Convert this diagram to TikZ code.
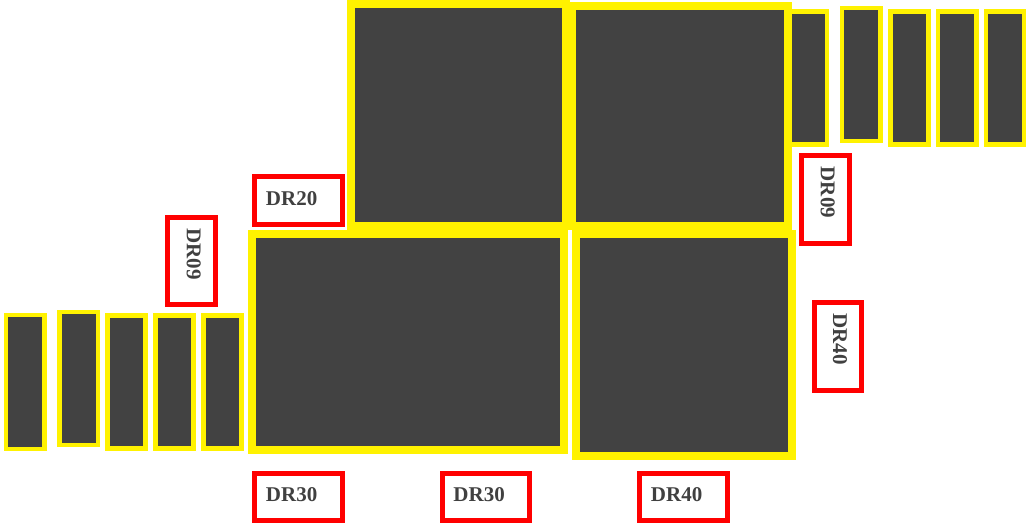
\documentclass[tikz,border=0pt]{standalone}
\usepackage{fontspec}
\setmainfont{Liberation Serif}
\definecolor{panelgray}{HTML}{424242}
\definecolor{labelgray}{HTML}{404040}
\tikzset{
  panel/.style={draw=yellow, fill=panelgray, line width=6pt},
  strip/.style={draw=yellow, fill=panelgray, line width=3.4pt},
  tag/.style={draw=red, line width=3.75pt, fill=white, text=labelgray,
    minimum width=65.6pt, minimum height=35.5pt, inner xsep=8.25pt,
    text width=49.1pt, align=left, text depth=3.5pt,
    font=\fontsize{15.75}{18}\selectfont\bfseries}
}
\begin{document}
\begin{tikzpicture}[x=0.75pt, y=-0.75pt]
    \useasboundingbox (0,0) rectangle (1026,524);

    % 左下窄条
    \draw[strip] (6.2,315.2) rectangle (44.5,448.8);
    \draw[strip] (59.5,312.2) rectangle (97.8,445);
    \draw[strip] (107.5,315.5) rectangle (145.5,448.5);
    \draw[strip] (155.5,315.5) rectangle (193.5,448.5);
    \draw[strip] (203.5,315.5) rectangle (241.5,448.5);

    % 右上窄条
    \draw[strip] (789.5,11.5) rectangle (827,144.5);
    \draw[strip] (842.2,8.2) rectangle (880.5,141);
    \draw[strip] (890.5,11.5) rectangle (928.5,144.5);
    \draw[strip] (938.2,11.5) rectangle (976.5,144.5);
    \draw[strip] (986.2,11.5) rectangle (1024.5,144.5);

    % 大面板
    \draw[panel] (351.3,4.3) rectangle (566,226);
    \draw[panel] (572,6.5) rectangle (787.5,226.5);
    \draw[panel] (251.5,234) rectangle (563.5,450);
    \draw[panel] (576,234) rectangle (791.5,456);

    % 标签
    \node[tag] (dr20) at (298.7,200.5) {DR20};
    \node[tag, rotate=-90] (dr09l) at (191.5,261.2) {DR09};
    \node[tag, rotate=-90] (dr09r) at (825.5,199.5) {DR09};
    \node[tag, rotate=-90] (dr40r) at (837.8,346.3) {DR40};
    \node[tag] (dr30l) at (298.7,497.2) {DR30};
    \node[tag] (dr30m) at (486.2,497.2) {DR30};
    \node[tag] (dr40b) at (683.7,497.2) {DR40};
\end{tikzpicture}
\end{document}
